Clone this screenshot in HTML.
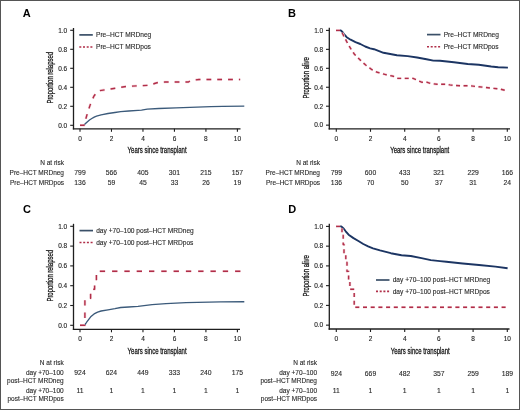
<!DOCTYPE html>
<html><head><meta charset="utf-8"><title>Figure</title>
<style>html,body{margin:0;padding:0;background:#fff;width:520px;height:410px;overflow:hidden;}body{position:relative;font-family:"Liberation Sans", sans-serif;}</style></head>
<body>
<svg width="520" height="410" viewBox="0 0 520 410" style="position:absolute;left:0;top:0;font-family:'Liberation Sans', sans-serif">
<line x1="73.5" y1="28" x2="73.5" y2="129.45" stroke="#1e1e1e" stroke-width="1.3" />
<line x1="72.85" y1="128.8" x2="240.5" y2="128.8" stroke="#1e1e1e" stroke-width="1.3" />
<line x1="70.2" y1="30.3" x2="73.5" y2="30.3" stroke="#1e1e1e" stroke-width="1.1" />
<line x1="70.2" y1="49.3" x2="73.5" y2="49.3" stroke="#1e1e1e" stroke-width="1.1" />
<line x1="70.2" y1="68.3" x2="73.5" y2="68.3" stroke="#1e1e1e" stroke-width="1.1" />
<line x1="70.2" y1="87.3" x2="73.5" y2="87.3" stroke="#1e1e1e" stroke-width="1.1" />
<line x1="70.2" y1="106.3" x2="73.5" y2="106.3" stroke="#1e1e1e" stroke-width="1.1" />
<line x1="70.2" y1="125.3" x2="73.5" y2="125.3" stroke="#1e1e1e" stroke-width="1.1" />
<line x1="80" y1="128.8" x2="80" y2="131.8" stroke="#1e1e1e" stroke-width="1.1" />
<line x1="111.48" y1="128.8" x2="111.48" y2="131.8" stroke="#1e1e1e" stroke-width="1.1" />
<line x1="142.96" y1="128.8" x2="142.96" y2="131.8" stroke="#1e1e1e" stroke-width="1.1" />
<line x1="174.44" y1="128.8" x2="174.44" y2="131.8" stroke="#1e1e1e" stroke-width="1.1" />
<line x1="205.92" y1="128.8" x2="205.92" y2="131.8" stroke="#1e1e1e" stroke-width="1.1" />
<line x1="237.4" y1="128.8" x2="237.4" y2="131.8" stroke="#1e1e1e" stroke-width="1.1" />
<line x1="79.3" y1="34.9" x2="92.8" y2="34.9" stroke="#3a5068" stroke-width="1.7" />
<line x1="79.3" y1="47" x2="92.8" y2="47" stroke="#b02e48" stroke-width="1.6" stroke-dasharray="2 1.7"/>
<path d="M80,125.3 L83.8,125.3 L85.5,123.6 L87.2,121.9 L89.5,120 L91.8,118.5 L94.2,117.1 L96.5,116.1 L101.1,114.8 L108,113.5 L114.9,112.5 L120.7,111.6 L128.7,111 L138,110.4 L141.5,110.1 L147.3,109.1 L158.8,108.5 L176.1,107.8 L190,107.3 L211,106.7 L222.6,106.3 L244.3,106.1" fill="none" stroke="#3b5a7a" stroke-width="1.35" stroke-linejoin="round"/>
<path d="M80,125.3 L84,125.3 L85.6,119.5 L88.4,110 L91.2,102 L94,96 L97,92 L100,90.6 L107.5,89.4 L118,87.8 L126,86.5 L137,85.9 L148,85.3 L151.5,84.9 L154.5,83.5 L158,82.5 L165,82 L188.5,82 L190.5,80.5 L199,79.5 L240.2,79.5" fill="none" stroke="#f6d3db" stroke-width="2.6" stroke-linejoin="round" stroke-dasharray="4.8 6" stroke-dashoffset="0"/>
<path d="M80,125.3 L84,125.3 L85.6,119.5 L88.4,110 L91.2,102 L94,96 L97,92 L100,90.6 L107.5,89.4 L118,87.8 L126,86.5 L137,85.9 L148,85.3 L151.5,84.9 L154.5,83.5 L158,82.5 L165,82 L188.5,82 L190.5,80.5 L199,79.5 L240.2,79.5" fill="none" stroke="#b02e48" stroke-width="1.4" stroke-linejoin="round" stroke-dasharray="4.8 6" stroke-dashoffset="0"/>
<line x1="329.3" y1="27.8" x2="329.3" y2="129.45" stroke="#1e1e1e" stroke-width="1.3" />
<line x1="328.65" y1="128.8" x2="510" y2="128.8" stroke="#1e1e1e" stroke-width="1.3" />
<line x1="326" y1="30.4" x2="329.3" y2="30.4" stroke="#1e1e1e" stroke-width="1.1" />
<line x1="326" y1="49.35" x2="329.3" y2="49.35" stroke="#1e1e1e" stroke-width="1.1" />
<line x1="326" y1="68.3" x2="329.3" y2="68.3" stroke="#1e1e1e" stroke-width="1.1" />
<line x1="326" y1="87.25" x2="329.3" y2="87.25" stroke="#1e1e1e" stroke-width="1.1" />
<line x1="326" y1="106.2" x2="329.3" y2="106.2" stroke="#1e1e1e" stroke-width="1.1" />
<line x1="326" y1="125.15" x2="329.3" y2="125.15" stroke="#1e1e1e" stroke-width="1.1" />
<line x1="336.3" y1="128.8" x2="336.3" y2="131.8" stroke="#1e1e1e" stroke-width="1.1" />
<line x1="370.5" y1="128.8" x2="370.5" y2="131.8" stroke="#1e1e1e" stroke-width="1.1" />
<line x1="404.7" y1="128.8" x2="404.7" y2="131.8" stroke="#1e1e1e" stroke-width="1.1" />
<line x1="438.9" y1="128.8" x2="438.9" y2="131.8" stroke="#1e1e1e" stroke-width="1.1" />
<line x1="473.1" y1="128.8" x2="473.1" y2="131.8" stroke="#1e1e1e" stroke-width="1.1" />
<line x1="507.3" y1="128.8" x2="507.3" y2="131.8" stroke="#1e1e1e" stroke-width="1.1" />
<line x1="427" y1="34.6" x2="440.5" y2="34.6" stroke="#3a5068" stroke-width="1.7" />
<line x1="427" y1="46.7" x2="440.5" y2="46.7" stroke="#b02e48" stroke-width="1.6" stroke-dasharray="2 1.7"/>
<path d="M336,30.4 L340.8,30.4 L342.5,32 L343.8,33.8 L346.7,37.2 L350.6,39.7 L355.5,42.1 L360.3,44 L365.2,46.5 L370.1,48.4 L374,49.2 L383.5,52.8 L396.9,55.2 L407.7,56.1 L417.1,57.5 L426.5,59.2 L433.3,60.6 L440,60.8 L453.9,62.3 L467.7,64 L478.8,64.8 L491.2,66.5 L498.2,67.2 L507.9,67.6" fill="none" stroke="#1c3563" stroke-width="1.9" stroke-linejoin="round"/>
<path d="M336,30.4 L340.8,30.4 L342.5,33.5 L344.7,37.7 L347.7,43.6 L350.6,48.4 L354.5,54.3 L358.4,58.2 L362.3,62.1 L366,65.2 L371.5,69.4 L377.3,72.3 L380.8,73.2 L386.5,74.8 L393.4,76.3 L398.1,78.4 L413.1,78.4 L417.5,80.3 L422.1,82.3 L427.3,82.3 L430.8,83.5 L437.1,84.3 L447.5,84.3 L449.8,84.9 L454.4,85.5 L461.9,85.8 L470,85.8 L491.2,88.1 L500,89 L507.5,91" fill="none" stroke="#f6d3db" stroke-width="2.6" stroke-linejoin="round" stroke-dasharray="4 3.5" stroke-dashoffset="0"/>
<path d="M336,30.4 L340.8,30.4 L342.5,33.5 L344.7,37.7 L347.7,43.6 L350.6,48.4 L354.5,54.3 L358.4,58.2 L362.3,62.1 L366,65.2 L371.5,69.4 L377.3,72.3 L380.8,73.2 L386.5,74.8 L393.4,76.3 L398.1,78.4 L413.1,78.4 L417.5,80.3 L422.1,82.3 L427.3,82.3 L430.8,83.5 L437.1,84.3 L447.5,84.3 L449.8,84.9 L454.4,85.5 L461.9,85.8 L470,85.8 L491.2,88.1 L500,89 L507.5,91" fill="none" stroke="#b02e48" stroke-width="1.4" stroke-linejoin="round" stroke-dasharray="4 3.5" stroke-dashoffset="0"/>
<line x1="73.5" y1="223.8" x2="73.5" y2="329.95" stroke="#1e1e1e" stroke-width="1.3" />
<line x1="72.85" y1="329.3" x2="240" y2="329.3" stroke="#1e1e1e" stroke-width="1.3" />
<line x1="70.2" y1="226.3" x2="73.5" y2="226.3" stroke="#1e1e1e" stroke-width="1.1" />
<line x1="70.2" y1="246.1" x2="73.5" y2="246.1" stroke="#1e1e1e" stroke-width="1.1" />
<line x1="70.2" y1="265.9" x2="73.5" y2="265.9" stroke="#1e1e1e" stroke-width="1.1" />
<line x1="70.2" y1="285.7" x2="73.5" y2="285.7" stroke="#1e1e1e" stroke-width="1.1" />
<line x1="70.2" y1="305.5" x2="73.5" y2="305.5" stroke="#1e1e1e" stroke-width="1.1" />
<line x1="70.2" y1="325.3" x2="73.5" y2="325.3" stroke="#1e1e1e" stroke-width="1.1" />
<line x1="80" y1="329.3" x2="80" y2="332.3" stroke="#1e1e1e" stroke-width="1.1" />
<line x1="111.48" y1="329.3" x2="111.48" y2="332.3" stroke="#1e1e1e" stroke-width="1.1" />
<line x1="142.96" y1="329.3" x2="142.96" y2="332.3" stroke="#1e1e1e" stroke-width="1.1" />
<line x1="174.44" y1="329.3" x2="174.44" y2="332.3" stroke="#1e1e1e" stroke-width="1.1" />
<line x1="205.92" y1="329.3" x2="205.92" y2="332.3" stroke="#1e1e1e" stroke-width="1.1" />
<line x1="237.4" y1="329.3" x2="237.4" y2="332.3" stroke="#1e1e1e" stroke-width="1.1" />
<line x1="79.5" y1="230.6" x2="93" y2="230.6" stroke="#3a5068" stroke-width="1.7" />
<line x1="79.5" y1="242.5" x2="93" y2="242.5" stroke="#b02e48" stroke-width="1.6" stroke-dasharray="2 1.7"/>
<path d="M80,325.4 L84.3,325.4 L85.8,323.5 L87.2,321.4 L90.7,316.8 L94.1,313.9 L97.6,312.1 L101.1,311 L108,309.8 L114.9,308.7 L120.7,307.5 L128.7,307 L138,306.4 L152.1,304.6 L166,303.7 L186,302.6 L220.6,301.8 L244.3,301.7" fill="none" stroke="#3b5a7a" stroke-width="1.35" stroke-linejoin="round"/>
<path d="M80,325.3 H84.9 V298.3 H90.6 V289.3 H94.6 V280.3 H96.4 V271.3 H241.5" fill="none" stroke="#f6d3db" stroke-width="2.6" stroke-linejoin="round" stroke-dasharray="5.3 7" stroke-dashoffset="0"/>
<path d="M80,325.3 H84.9 V298.3 H90.6 V289.3 H94.6 V280.3 H96.4 V271.3 H241.5" fill="none" stroke="#b02e48" stroke-width="1.4" stroke-linejoin="round" stroke-dasharray="5.3 7" stroke-dashoffset="0"/>
<line x1="329.3" y1="223.8" x2="329.3" y2="329.65" stroke="#1e1e1e" stroke-width="1.3" />
<line x1="328.65" y1="329" x2="509.5" y2="329" stroke="#1e1e1e" stroke-width="1.3" />
<line x1="326" y1="226.4" x2="329.3" y2="226.4" stroke="#1e1e1e" stroke-width="1.1" />
<line x1="326" y1="246.15" x2="329.3" y2="246.15" stroke="#1e1e1e" stroke-width="1.1" />
<line x1="326" y1="265.9" x2="329.3" y2="265.9" stroke="#1e1e1e" stroke-width="1.1" />
<line x1="326" y1="285.65" x2="329.3" y2="285.65" stroke="#1e1e1e" stroke-width="1.1" />
<line x1="326" y1="305.4" x2="329.3" y2="305.4" stroke="#1e1e1e" stroke-width="1.1" />
<line x1="326" y1="325.15" x2="329.3" y2="325.15" stroke="#1e1e1e" stroke-width="1.1" />
<line x1="336.3" y1="329" x2="336.3" y2="332" stroke="#1e1e1e" stroke-width="1.1" />
<line x1="370.5" y1="329" x2="370.5" y2="332" stroke="#1e1e1e" stroke-width="1.1" />
<line x1="404.7" y1="329" x2="404.7" y2="332" stroke="#1e1e1e" stroke-width="1.1" />
<line x1="438.9" y1="329" x2="438.9" y2="332" stroke="#1e1e1e" stroke-width="1.1" />
<line x1="473.1" y1="329" x2="473.1" y2="332" stroke="#1e1e1e" stroke-width="1.1" />
<line x1="507.3" y1="329" x2="507.3" y2="332" stroke="#1e1e1e" stroke-width="1.1" />
<line x1="376" y1="280" x2="389.5" y2="280" stroke="#3a5068" stroke-width="1.7" />
<line x1="376" y1="291.4" x2="389.5" y2="291.4" stroke="#b02e48" stroke-width="1.6" stroke-dasharray="2 1.7"/>
<path d="M336.1,226.4 L341.3,226.4 L343.8,228.8 L345.7,231.3 L348.6,234.7 L353.5,238.1 L358.4,241 L363.3,244 L368.1,246.4 L373,248.3 L380,250.4 L390.8,253.2 L401.5,255.3 L410.8,256 L421.5,258.1 L430.8,260.1 L440,261.1 L446.3,261.8 L462.7,263.5 L479,265 L495.4,266.6 L507.6,268.2" fill="none" stroke="#1c3563" stroke-width="1.9" stroke-linejoin="round"/>
<path d="M336.1,226.4 H342 V235.4 H343.2 V244.4 H344 V253.4 H345.8 V262.4 H347 V271.4 H348.6 V280.4 H349.9 V289.3 H354.2 V307.3 H507.5" fill="none" stroke="#f6d3db" stroke-width="2.6" stroke-linejoin="round" stroke-dasharray="4 3.7" stroke-dashoffset="0"/>
<path d="M336.1,226.4 H342 V235.4 H343.2 V244.4 H344 V253.4 H345.8 V262.4 H347 V271.4 H348.6 V280.4 H349.9 V289.3 H354.2 V307.3 H507.5" fill="none" stroke="#b02e48" stroke-width="1.4" stroke-linejoin="round" stroke-dasharray="4 3.7" stroke-dashoffset="0"/>
<rect x="0.5" y="0.5" width="519" height="409" fill="none" stroke="#555" stroke-width="1"/>
<g style="filter:grayscale(1)">
<text x="22.7" y="16.9" font-size="11" text-anchor="start" fill="#000" font-weight="bold" >A</text>
<text x="287.9" y="17.2" font-size="11" text-anchor="start" fill="#000" font-weight="bold" >B</text>
<text x="23" y="213" font-size="11" text-anchor="start" fill="#000" font-weight="bold" >C</text>
<text x="288.2" y="212.8" font-size="11" text-anchor="start" fill="#000" font-weight="bold" >D</text>
<text x="67.2" y="32.6" font-size="6.5" text-anchor="end" fill="#222" font-weight="normal"  stroke="#222" stroke-width="0.12">1.0</text>
<text x="67.2" y="51.6" font-size="6.5" text-anchor="end" fill="#222" font-weight="normal"  stroke="#222" stroke-width="0.12">0.8</text>
<text x="67.2" y="70.6" font-size="6.5" text-anchor="end" fill="#222" font-weight="normal"  stroke="#222" stroke-width="0.12">0.6</text>
<text x="67.2" y="89.6" font-size="6.5" text-anchor="end" fill="#222" font-weight="normal"  stroke="#222" stroke-width="0.12">0.4</text>
<text x="67.2" y="108.6" font-size="6.5" text-anchor="end" fill="#222" font-weight="normal"  stroke="#222" stroke-width="0.12">0.2</text>
<text x="67.2" y="127.6" font-size="6.5" text-anchor="end" fill="#222" font-weight="normal"  stroke="#222" stroke-width="0.12">0.0</text>
<text x="80" y="140.7" font-size="6.5" text-anchor="middle" fill="#222" font-weight="normal"  stroke="#222" stroke-width="0.12">0</text>
<text x="111.48" y="140.7" font-size="6.5" text-anchor="middle" fill="#222" font-weight="normal"  stroke="#222" stroke-width="0.12">2</text>
<text x="142.96" y="140.7" font-size="6.5" text-anchor="middle" fill="#222" font-weight="normal"  stroke="#222" stroke-width="0.12">4</text>
<text x="174.44" y="140.7" font-size="6.5" text-anchor="middle" fill="#222" font-weight="normal"  stroke="#222" stroke-width="0.12">6</text>
<text x="205.92" y="140.7" font-size="6.5" text-anchor="middle" fill="#222" font-weight="normal"  stroke="#222" stroke-width="0.12">8</text>
<text x="237.4" y="140.7" font-size="6.5" text-anchor="middle" fill="#222" font-weight="normal"  stroke="#222" stroke-width="0.12">10</text>
<text x="157.1" y="153.2" font-size="8.3" text-anchor="middle" fill="#1a1a1a" font-weight="normal" textLength="59" lengthAdjust="spacingAndGlyphs" stroke="#1a1a1a" stroke-width="0.3">Years since transplant</text>
<text x="0" y="0" font-size="8.3" text-anchor="middle" fill="#1a1a1a" stroke="#1a1a1a" stroke-width="0.3" textLength="51.5" lengthAdjust="spacingAndGlyphs" transform="translate(52.6,77.8) rotate(-90)">Proportion relapsed</text>
<text x="96" y="37.2" font-size="6.6" text-anchor="start" fill="#2a2a2a" font-weight="normal"  stroke="#2a2a2a" stroke-width="0.12">Pre–HCT MRDneg</text>
<text x="96" y="49.3" font-size="6.6" text-anchor="start" fill="#2a2a2a" font-weight="normal"  stroke="#2a2a2a" stroke-width="0.12">Pre–HCT MRDpos</text>
<text x="64" y="164.9" font-size="6.5" text-anchor="end" fill="#2a2a2a" font-weight="normal"  stroke="#2a2a2a" stroke-width="0.12">N at risk</text>
<text x="64" y="174.7" font-size="6.5" text-anchor="end" fill="#2a2a2a" font-weight="normal"  stroke="#2a2a2a" stroke-width="0.12">Pre–HCT MRDneg</text>
<text x="64" y="184.8" font-size="6.5" text-anchor="end" fill="#2a2a2a" font-weight="normal"  stroke="#2a2a2a" stroke-width="0.12">Pre–HCT MRDpos</text>
<text x="80" y="174.7" font-size="6.8" text-anchor="middle" fill="#2a2a2a" font-weight="normal"  stroke="#2a2a2a" stroke-width="0.12">799</text>
<text x="80" y="184.8" font-size="6.8" text-anchor="middle" fill="#2a2a2a" font-weight="normal"  stroke="#2a2a2a" stroke-width="0.12">136</text>
<text x="111.48" y="174.7" font-size="6.8" text-anchor="middle" fill="#2a2a2a" font-weight="normal"  stroke="#2a2a2a" stroke-width="0.12">566</text>
<text x="111.48" y="184.8" font-size="6.8" text-anchor="middle" fill="#2a2a2a" font-weight="normal"  stroke="#2a2a2a" stroke-width="0.12">59</text>
<text x="142.96" y="174.7" font-size="6.8" text-anchor="middle" fill="#2a2a2a" font-weight="normal"  stroke="#2a2a2a" stroke-width="0.12">405</text>
<text x="142.96" y="184.8" font-size="6.8" text-anchor="middle" fill="#2a2a2a" font-weight="normal"  stroke="#2a2a2a" stroke-width="0.12">45</text>
<text x="174.44" y="174.7" font-size="6.8" text-anchor="middle" fill="#2a2a2a" font-weight="normal"  stroke="#2a2a2a" stroke-width="0.12">301</text>
<text x="174.44" y="184.8" font-size="6.8" text-anchor="middle" fill="#2a2a2a" font-weight="normal"  stroke="#2a2a2a" stroke-width="0.12">33</text>
<text x="205.92" y="174.7" font-size="6.8" text-anchor="middle" fill="#2a2a2a" font-weight="normal"  stroke="#2a2a2a" stroke-width="0.12">215</text>
<text x="205.92" y="184.8" font-size="6.8" text-anchor="middle" fill="#2a2a2a" font-weight="normal"  stroke="#2a2a2a" stroke-width="0.12">26</text>
<text x="237.4" y="174.7" font-size="6.8" text-anchor="middle" fill="#2a2a2a" font-weight="normal"  stroke="#2a2a2a" stroke-width="0.12">157</text>
<text x="237.4" y="184.8" font-size="6.8" text-anchor="middle" fill="#2a2a2a" font-weight="normal"  stroke="#2a2a2a" stroke-width="0.12">19</text>
<text x="323.2" y="32.7" font-size="6.5" text-anchor="end" fill="#222" font-weight="normal"  stroke="#222" stroke-width="0.12">1.0</text>
<text x="323.2" y="51.65" font-size="6.5" text-anchor="end" fill="#222" font-weight="normal"  stroke="#222" stroke-width="0.12">0.8</text>
<text x="323.2" y="70.6" font-size="6.5" text-anchor="end" fill="#222" font-weight="normal"  stroke="#222" stroke-width="0.12">0.6</text>
<text x="323.2" y="89.55" font-size="6.5" text-anchor="end" fill="#222" font-weight="normal"  stroke="#222" stroke-width="0.12">0.4</text>
<text x="323.2" y="108.5" font-size="6.5" text-anchor="end" fill="#222" font-weight="normal"  stroke="#222" stroke-width="0.12">0.2</text>
<text x="323.2" y="127.45" font-size="6.5" text-anchor="end" fill="#222" font-weight="normal"  stroke="#222" stroke-width="0.12">0.0</text>
<text x="336.3" y="140.7" font-size="6.5" text-anchor="middle" fill="#222" font-weight="normal"  stroke="#222" stroke-width="0.12">0</text>
<text x="370.5" y="140.7" font-size="6.5" text-anchor="middle" fill="#222" font-weight="normal"  stroke="#222" stroke-width="0.12">2</text>
<text x="404.7" y="140.7" font-size="6.5" text-anchor="middle" fill="#222" font-weight="normal"  stroke="#222" stroke-width="0.12">4</text>
<text x="438.9" y="140.7" font-size="6.5" text-anchor="middle" fill="#222" font-weight="normal"  stroke="#222" stroke-width="0.12">6</text>
<text x="473.1" y="140.7" font-size="6.5" text-anchor="middle" fill="#222" font-weight="normal"  stroke="#222" stroke-width="0.12">8</text>
<text x="507.3" y="140.7" font-size="6.5" text-anchor="middle" fill="#222" font-weight="normal"  stroke="#222" stroke-width="0.12">10</text>
<text x="419.7" y="153.2" font-size="8.3" text-anchor="middle" fill="#1a1a1a" font-weight="normal" textLength="59" lengthAdjust="spacingAndGlyphs" stroke="#1a1a1a" stroke-width="0.3">Years since transplant</text>
<text x="0" y="0" font-size="8.3" text-anchor="middle" fill="#1a1a1a" stroke="#1a1a1a" stroke-width="0.3" textLength="41.3" lengthAdjust="spacingAndGlyphs" transform="translate(308.6,77.8) rotate(-90)">Proportion alive</text>
<text x="443.7" y="36.9" font-size="6.6" text-anchor="start" fill="#2a2a2a" font-weight="normal"  stroke="#2a2a2a" stroke-width="0.12">Pre–HCT MRDneg</text>
<text x="443.7" y="49" font-size="6.6" text-anchor="start" fill="#2a2a2a" font-weight="normal"  stroke="#2a2a2a" stroke-width="0.12">Pre–HCT MRDpos</text>
<text x="320" y="164.9" font-size="6.5" text-anchor="end" fill="#2a2a2a" font-weight="normal"  stroke="#2a2a2a" stroke-width="0.12">N at risk</text>
<text x="320" y="174.7" font-size="6.5" text-anchor="end" fill="#2a2a2a" font-weight="normal"  stroke="#2a2a2a" stroke-width="0.12">Pre–HCT MRDneg</text>
<text x="320" y="184.8" font-size="6.5" text-anchor="end" fill="#2a2a2a" font-weight="normal"  stroke="#2a2a2a" stroke-width="0.12">Pre–HCT MRDpos</text>
<text x="336.3" y="174.7" font-size="6.8" text-anchor="middle" fill="#2a2a2a" font-weight="normal"  stroke="#2a2a2a" stroke-width="0.12">799</text>
<text x="336.3" y="184.8" font-size="6.8" text-anchor="middle" fill="#2a2a2a" font-weight="normal"  stroke="#2a2a2a" stroke-width="0.12">136</text>
<text x="370.5" y="174.7" font-size="6.8" text-anchor="middle" fill="#2a2a2a" font-weight="normal"  stroke="#2a2a2a" stroke-width="0.12">600</text>
<text x="370.5" y="184.8" font-size="6.8" text-anchor="middle" fill="#2a2a2a" font-weight="normal"  stroke="#2a2a2a" stroke-width="0.12">70</text>
<text x="404.7" y="174.7" font-size="6.8" text-anchor="middle" fill="#2a2a2a" font-weight="normal"  stroke="#2a2a2a" stroke-width="0.12">433</text>
<text x="404.7" y="184.8" font-size="6.8" text-anchor="middle" fill="#2a2a2a" font-weight="normal"  stroke="#2a2a2a" stroke-width="0.12">50</text>
<text x="438.9" y="174.7" font-size="6.8" text-anchor="middle" fill="#2a2a2a" font-weight="normal"  stroke="#2a2a2a" stroke-width="0.12">321</text>
<text x="438.9" y="184.8" font-size="6.8" text-anchor="middle" fill="#2a2a2a" font-weight="normal"  stroke="#2a2a2a" stroke-width="0.12">37</text>
<text x="473.1" y="174.7" font-size="6.8" text-anchor="middle" fill="#2a2a2a" font-weight="normal"  stroke="#2a2a2a" stroke-width="0.12">229</text>
<text x="473.1" y="184.8" font-size="6.8" text-anchor="middle" fill="#2a2a2a" font-weight="normal"  stroke="#2a2a2a" stroke-width="0.12">31</text>
<text x="507.3" y="174.7" font-size="6.8" text-anchor="middle" fill="#2a2a2a" font-weight="normal"  stroke="#2a2a2a" stroke-width="0.12">166</text>
<text x="507.3" y="184.8" font-size="6.8" text-anchor="middle" fill="#2a2a2a" font-weight="normal"  stroke="#2a2a2a" stroke-width="0.12">24</text>
<text x="67.2" y="228.6" font-size="6.5" text-anchor="end" fill="#222" font-weight="normal"  stroke="#222" stroke-width="0.12">1.0</text>
<text x="67.2" y="248.4" font-size="6.5" text-anchor="end" fill="#222" font-weight="normal"  stroke="#222" stroke-width="0.12">0.8</text>
<text x="67.2" y="268.2" font-size="6.5" text-anchor="end" fill="#222" font-weight="normal"  stroke="#222" stroke-width="0.12">0.6</text>
<text x="67.2" y="288" font-size="6.5" text-anchor="end" fill="#222" font-weight="normal"  stroke="#222" stroke-width="0.12">0.4</text>
<text x="67.2" y="307.8" font-size="6.5" text-anchor="end" fill="#222" font-weight="normal"  stroke="#222" stroke-width="0.12">0.2</text>
<text x="67.2" y="327.6" font-size="6.5" text-anchor="end" fill="#222" font-weight="normal"  stroke="#222" stroke-width="0.12">0.0</text>
<text x="80" y="341.2" font-size="6.5" text-anchor="middle" fill="#222" font-weight="normal"  stroke="#222" stroke-width="0.12">0</text>
<text x="111.48" y="341.2" font-size="6.5" text-anchor="middle" fill="#222" font-weight="normal"  stroke="#222" stroke-width="0.12">2</text>
<text x="142.96" y="341.2" font-size="6.5" text-anchor="middle" fill="#222" font-weight="normal"  stroke="#222" stroke-width="0.12">4</text>
<text x="174.44" y="341.2" font-size="6.5" text-anchor="middle" fill="#222" font-weight="normal"  stroke="#222" stroke-width="0.12">6</text>
<text x="205.92" y="341.2" font-size="6.5" text-anchor="middle" fill="#222" font-weight="normal"  stroke="#222" stroke-width="0.12">8</text>
<text x="237.4" y="341.2" font-size="6.5" text-anchor="middle" fill="#222" font-weight="normal"  stroke="#222" stroke-width="0.12">10</text>
<text x="157.1" y="353.9" font-size="8.3" text-anchor="middle" fill="#1a1a1a" font-weight="normal" textLength="59" lengthAdjust="spacingAndGlyphs" stroke="#1a1a1a" stroke-width="0.3">Years since transplant</text>
<text x="0" y="0" font-size="8.3" text-anchor="middle" fill="#1a1a1a" stroke="#1a1a1a" stroke-width="0.3" textLength="51.5" lengthAdjust="spacingAndGlyphs" transform="translate(52.6,275.8) rotate(-90)">Proportion relapsed</text>
<text x="96.2" y="232.9" font-size="6.6" text-anchor="start" fill="#2a2a2a" font-weight="normal"  stroke="#2a2a2a" stroke-width="0.12">day +70–100 post–HCT MRDneg</text>
<text x="96.2" y="244.8" font-size="6.6" text-anchor="start" fill="#2a2a2a" font-weight="normal"  stroke="#2a2a2a" stroke-width="0.12">day +70–100 post–HCT MRDpos</text>
<text x="63.7" y="365" font-size="6.5" text-anchor="end" fill="#2a2a2a" font-weight="normal"  stroke="#2a2a2a" stroke-width="0.12">N at risk</text>
<text x="63.7" y="374.9" font-size="6.5" text-anchor="end" fill="#2a2a2a" font-weight="normal"  stroke="#2a2a2a" stroke-width="0.12">day +70–100</text>
<text x="63.7" y="383.3" font-size="6.5" text-anchor="end" fill="#2a2a2a" font-weight="normal"  stroke="#2a2a2a" stroke-width="0.12">post–HCT MRDneg</text>
<text x="63.7" y="393.4" font-size="6.5" text-anchor="end" fill="#2a2a2a" font-weight="normal"  stroke="#2a2a2a" stroke-width="0.12">day +70–100</text>
<text x="63.7" y="401.2" font-size="6.5" text-anchor="end" fill="#2a2a2a" font-weight="normal"  stroke="#2a2a2a" stroke-width="0.12">post–HCT MRDpos</text>
<text x="80" y="375.4" font-size="6.8" text-anchor="middle" fill="#2a2a2a" font-weight="normal"  stroke="#2a2a2a" stroke-width="0.12">924</text>
<text x="80" y="392.6" font-size="6.8" text-anchor="middle" fill="#2a2a2a" font-weight="normal"  stroke="#2a2a2a" stroke-width="0.12">11</text>
<text x="111.48" y="375.4" font-size="6.8" text-anchor="middle" fill="#2a2a2a" font-weight="normal"  stroke="#2a2a2a" stroke-width="0.12">624</text>
<text x="111.48" y="392.6" font-size="6.8" text-anchor="middle" fill="#2a2a2a" font-weight="normal"  stroke="#2a2a2a" stroke-width="0.12">1</text>
<text x="142.96" y="375.4" font-size="6.8" text-anchor="middle" fill="#2a2a2a" font-weight="normal"  stroke="#2a2a2a" stroke-width="0.12">449</text>
<text x="142.96" y="392.6" font-size="6.8" text-anchor="middle" fill="#2a2a2a" font-weight="normal"  stroke="#2a2a2a" stroke-width="0.12">1</text>
<text x="174.44" y="375.4" font-size="6.8" text-anchor="middle" fill="#2a2a2a" font-weight="normal"  stroke="#2a2a2a" stroke-width="0.12">333</text>
<text x="174.44" y="392.6" font-size="6.8" text-anchor="middle" fill="#2a2a2a" font-weight="normal"  stroke="#2a2a2a" stroke-width="0.12">1</text>
<text x="205.92" y="375.4" font-size="6.8" text-anchor="middle" fill="#2a2a2a" font-weight="normal"  stroke="#2a2a2a" stroke-width="0.12">240</text>
<text x="205.92" y="392.6" font-size="6.8" text-anchor="middle" fill="#2a2a2a" font-weight="normal"  stroke="#2a2a2a" stroke-width="0.12">1</text>
<text x="237.4" y="375.4" font-size="6.8" text-anchor="middle" fill="#2a2a2a" font-weight="normal"  stroke="#2a2a2a" stroke-width="0.12">175</text>
<text x="237.4" y="392.6" font-size="6.8" text-anchor="middle" fill="#2a2a2a" font-weight="normal"  stroke="#2a2a2a" stroke-width="0.12">1</text>
<text x="323.2" y="228.7" font-size="6.5" text-anchor="end" fill="#222" font-weight="normal"  stroke="#222" stroke-width="0.12">1.0</text>
<text x="323.2" y="248.45" font-size="6.5" text-anchor="end" fill="#222" font-weight="normal"  stroke="#222" stroke-width="0.12">0.8</text>
<text x="323.2" y="268.2" font-size="6.5" text-anchor="end" fill="#222" font-weight="normal"  stroke="#222" stroke-width="0.12">0.6</text>
<text x="323.2" y="287.95" font-size="6.5" text-anchor="end" fill="#222" font-weight="normal"  stroke="#222" stroke-width="0.12">0.4</text>
<text x="323.2" y="307.7" font-size="6.5" text-anchor="end" fill="#222" font-weight="normal"  stroke="#222" stroke-width="0.12">0.2</text>
<text x="323.2" y="327.45" font-size="6.5" text-anchor="end" fill="#222" font-weight="normal"  stroke="#222" stroke-width="0.12">0.0</text>
<text x="336.3" y="341.2" font-size="6.5" text-anchor="middle" fill="#222" font-weight="normal"  stroke="#222" stroke-width="0.12">0</text>
<text x="370.5" y="341.2" font-size="6.5" text-anchor="middle" fill="#222" font-weight="normal"  stroke="#222" stroke-width="0.12">2</text>
<text x="404.7" y="341.2" font-size="6.5" text-anchor="middle" fill="#222" font-weight="normal"  stroke="#222" stroke-width="0.12">4</text>
<text x="438.9" y="341.2" font-size="6.5" text-anchor="middle" fill="#222" font-weight="normal"  stroke="#222" stroke-width="0.12">6</text>
<text x="473.1" y="341.2" font-size="6.5" text-anchor="middle" fill="#222" font-weight="normal"  stroke="#222" stroke-width="0.12">8</text>
<text x="507.3" y="341.2" font-size="6.5" text-anchor="middle" fill="#222" font-weight="normal"  stroke="#222" stroke-width="0.12">10</text>
<text x="420.2" y="353.9" font-size="8.3" text-anchor="middle" fill="#1a1a1a" font-weight="normal" textLength="59" lengthAdjust="spacingAndGlyphs" stroke="#1a1a1a" stroke-width="0.3">Years since transplant</text>
<text x="0" y="0" font-size="8.3" text-anchor="middle" fill="#1a1a1a" stroke="#1a1a1a" stroke-width="0.3" textLength="41.3" lengthAdjust="spacingAndGlyphs" transform="translate(308.6,275.8) rotate(-90)">Proportion alive</text>
<text x="392.7" y="282.3" font-size="6.6" text-anchor="start" fill="#2a2a2a" font-weight="normal"  stroke="#2a2a2a" stroke-width="0.12">day +70–100 post–HCT MRDneg</text>
<text x="392.7" y="293.7" font-size="6.6" text-anchor="start" fill="#2a2a2a" font-weight="normal"  stroke="#2a2a2a" stroke-width="0.12">day +70–100 post–HCT MRDpos</text>
<text x="317" y="365" font-size="6.5" text-anchor="end" fill="#2a2a2a" font-weight="normal"  stroke="#2a2a2a" stroke-width="0.12">N at risk</text>
<text x="317" y="375.1" font-size="6.5" text-anchor="end" fill="#2a2a2a" font-weight="normal"  stroke="#2a2a2a" stroke-width="0.12">day +70–100</text>
<text x="317" y="382.9" font-size="6.5" text-anchor="end" fill="#2a2a2a" font-weight="normal"  stroke="#2a2a2a" stroke-width="0.12">post–HCT MRDneg</text>
<text x="317" y="393.3" font-size="6.5" text-anchor="end" fill="#2a2a2a" font-weight="normal"  stroke="#2a2a2a" stroke-width="0.12">day +70–100</text>
<text x="317" y="401.1" font-size="6.5" text-anchor="end" fill="#2a2a2a" font-weight="normal"  stroke="#2a2a2a" stroke-width="0.12">post–HCT MRDpos</text>
<text x="336.3" y="375.5" font-size="6.8" text-anchor="middle" fill="#2a2a2a" font-weight="normal"  stroke="#2a2a2a" stroke-width="0.12">924</text>
<text x="336.3" y="393.4" font-size="6.8" text-anchor="middle" fill="#2a2a2a" font-weight="normal"  stroke="#2a2a2a" stroke-width="0.12">11</text>
<text x="370.5" y="375.5" font-size="6.8" text-anchor="middle" fill="#2a2a2a" font-weight="normal"  stroke="#2a2a2a" stroke-width="0.12">669</text>
<text x="370.5" y="393.4" font-size="6.8" text-anchor="middle" fill="#2a2a2a" font-weight="normal"  stroke="#2a2a2a" stroke-width="0.12">1</text>
<text x="404.7" y="375.5" font-size="6.8" text-anchor="middle" fill="#2a2a2a" font-weight="normal"  stroke="#2a2a2a" stroke-width="0.12">482</text>
<text x="404.7" y="393.4" font-size="6.8" text-anchor="middle" fill="#2a2a2a" font-weight="normal"  stroke="#2a2a2a" stroke-width="0.12">1</text>
<text x="438.9" y="375.5" font-size="6.8" text-anchor="middle" fill="#2a2a2a" font-weight="normal"  stroke="#2a2a2a" stroke-width="0.12">357</text>
<text x="438.9" y="393.4" font-size="6.8" text-anchor="middle" fill="#2a2a2a" font-weight="normal"  stroke="#2a2a2a" stroke-width="0.12">1</text>
<text x="473.1" y="375.5" font-size="6.8" text-anchor="middle" fill="#2a2a2a" font-weight="normal"  stroke="#2a2a2a" stroke-width="0.12">259</text>
<text x="473.1" y="393.4" font-size="6.8" text-anchor="middle" fill="#2a2a2a" font-weight="normal"  stroke="#2a2a2a" stroke-width="0.12">1</text>
<text x="507.3" y="375.5" font-size="6.8" text-anchor="middle" fill="#2a2a2a" font-weight="normal"  stroke="#2a2a2a" stroke-width="0.12">189</text>
<text x="507.3" y="393.4" font-size="6.8" text-anchor="middle" fill="#2a2a2a" font-weight="normal"  stroke="#2a2a2a" stroke-width="0.12">1</text>
</g>
</svg>
</body></html>
